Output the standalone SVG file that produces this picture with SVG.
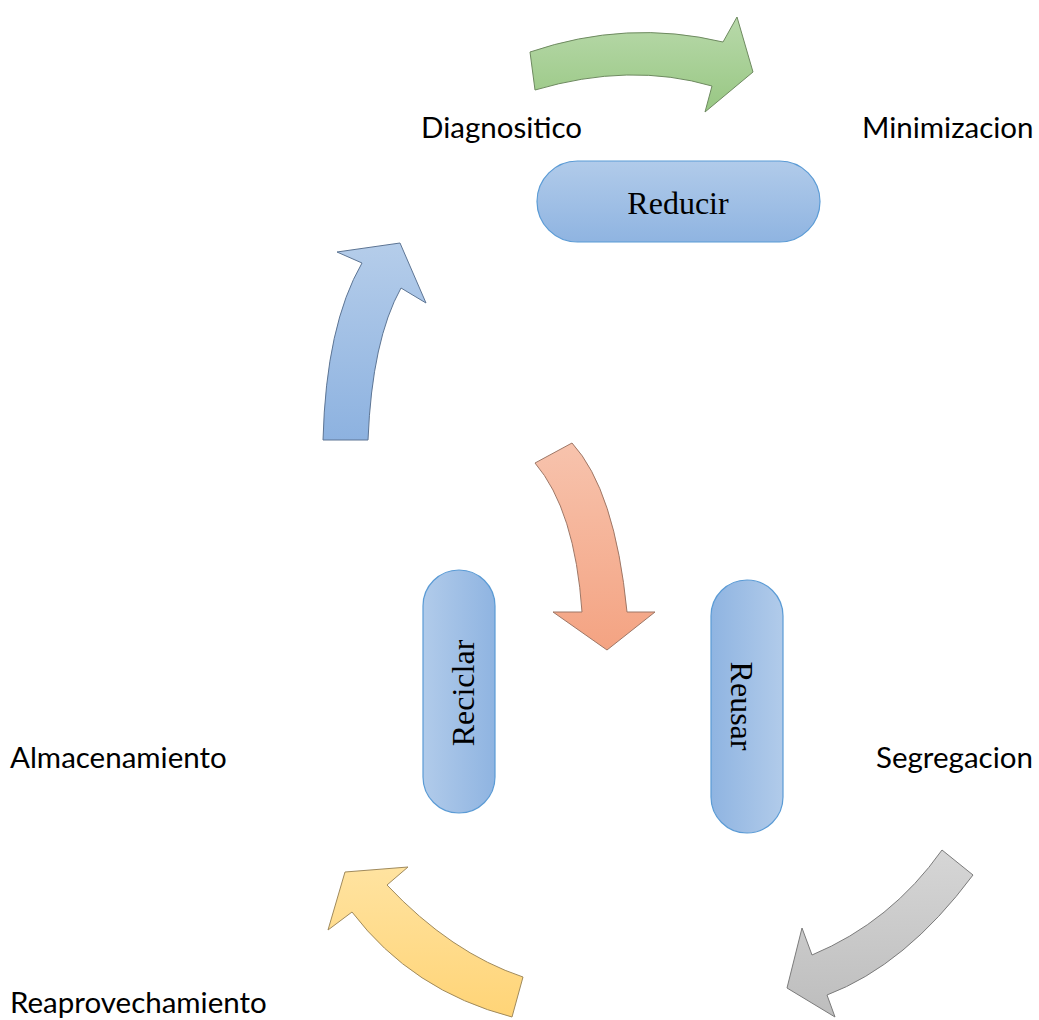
<svg xmlns="http://www.w3.org/2000/svg" width="1039" height="1020" viewBox="0 0 1039 1020">
<defs>
<linearGradient id="gGreen" x1="0" y1="0" x2="0" y2="1"><stop offset="0" stop-color="#b8d9aa"/><stop offset="1" stop-color="#98c783"/></linearGradient>
<linearGradient id="gBlue" x1="0" y1="0" x2="0" y2="1"><stop offset="0" stop-color="#b5cdea"/><stop offset="1" stop-color="#8db2e0"/></linearGradient>
<linearGradient id="gOrange" x1="0" y1="0" x2="0" y2="1"><stop offset="0" stop-color="#f7c3ad"/><stop offset="1" stop-color="#f4a382"/></linearGradient>
<linearGradient id="gGray" x1="0" y1="0" x2="0" y2="1"><stop offset="0" stop-color="#d6d6d6"/><stop offset="1" stop-color="#bdbdbd"/></linearGradient>
<linearGradient id="gYellow" x1="0" y1="0" x2="0" y2="1"><stop offset="0" stop-color="#ffe3a0"/><stop offset="1" stop-color="#ffd477"/></linearGradient>
<linearGradient id="pillV" x1="0" y1="0" x2="0" y2="1"><stop offset="0" stop-color="#b1cbea"/><stop offset="1" stop-color="#8fb4e1"/></linearGradient>
<linearGradient id="pillL" x1="0" y1="0" x2="1" y2="0"><stop offset="0" stop-color="#b1cbea"/><stop offset="1" stop-color="#8fb4e1"/></linearGradient>
<linearGradient id="pillR" x1="0" y1="0" x2="1" y2="0"><stop offset="0" stop-color="#8fb4e1"/><stop offset="1" stop-color="#b1cbea"/></linearGradient>
</defs>
<style>
.arrow{stroke-width:1;stroke-linejoin:miter}
.pill{stroke:#5b9bd5;stroke-width:1.2}
.pt{font-family:"Liberation Serif","Times New Roman",serif;font-size:32px;fill:#000;text-anchor:middle;dominant-baseline:central}
.lbl{font-family:"Lato","Liberation Sans",sans-serif;font-size:29.5px;fill:#000}
</style>
<g id="connectors">
<path id="arrow-green" class="arrow" fill="url(#gGreen)" stroke="#6e8a60" d="M530,52 Q627,19 723,42 L737,17 L753,72 L705,112 L712,86 Q630,62 535,90 Z"/>
<path id="arrow-blue" class="arrow" fill="url(#gBlue)" stroke="#5d7594" d="M323,440 Q326,325 362,263 L337,252 L400,243 L426,303 L401,288 Q372,340 368,440 Z"/>
<path id="arrow-orange" class="arrow" fill="url(#gOrange)" stroke="#9e7766" d="M535,463 L572,443 Q615,490 627,612 L655,612 L607,650 L553,612 L582,612 Q575,510 535,463 Z"/>
<path id="arrow-gray" class="arrow" fill="url(#gGray)" stroke="#7b7b7b" d="M942,850 L973,875 Q906,965 827,995 L835,1017 L787,988 L802,928 L812,955 Q891,922 942,850 Z"/>
<path id="arrow-yellow" class="arrow" fill="url(#gYellow)" stroke="#a08a5c" d="M523,977 Q451,953 387,885 L408,867 L345,872 L328,930 L352,912 Q412,991 512,1017 Z"/>
</g>
<g id="node-reducir">
<rect class="pill" x="537" y="161" width="283" height="81" rx="40.5" fill="url(#pillV)"/>
<text class="pt" x="678" y="203">Reducir</text>
</g>
<g id="node-reciclar">
<rect class="pill" x="423" y="570" width="72" height="243" rx="36" fill="url(#pillL)"/>
<text class="pt" transform="translate(463,693) rotate(-90)">Reciclar</text>
</g>
<g id="node-reusar">
<rect class="pill" x="711" y="580" width="72" height="253" rx="36" fill="url(#pillR)"/>
<text class="pt" transform="translate(742,706) rotate(90)">Reusar</text>
</g>
<g id="labels">
<text id="lbl-diagnositico" class="lbl" x="421" y="138">Diagnositico</text>
<text id="lbl-minimizacion" class="lbl" x="862" y="138">Minimizacion</text>
<text id="lbl-almacenamiento" class="lbl" x="10" y="768">Almacenamiento</text>
<text id="lbl-segregacion" class="lbl" x="876" y="768">Segregacion</text>
<text id="lbl-reaprovechamiento" class="lbl" x="10" y="1013">Reaprovechamiento</text>
</g>
</svg>
